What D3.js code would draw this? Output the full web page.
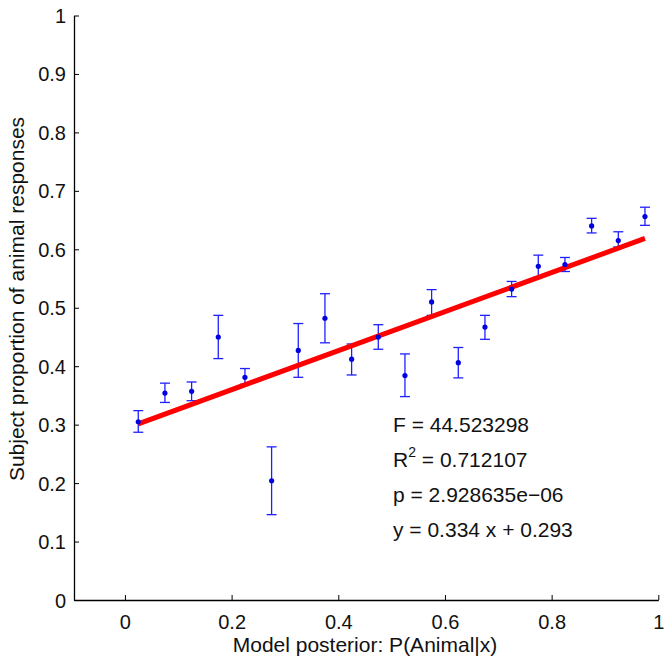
<!DOCTYPE html>
<html>
<head>
<meta charset="utf-8">
<script src="https://cdn.jsdelivr.net/npm/d3@7"></script>
<style>
  html, body { margin: 0; padding: 0; background: #fff; }
  svg text { font-family: "Liberation Sans", Arial, sans-serif; }
</style>
</head>
<body>
<svg id="chart" width="670" height="666"></svg>
<script>
// Data
const xBins  = [0.025, 0.075, 0.125, 0.175, 0.225, 0.275, 0.325, 0.375, 0.425, 0.475,
                0.525, 0.575, 0.625, 0.675, 0.725, 0.775, 0.825, 0.875, 0.925, 0.975];
const yMean  = [0.305, 0.354, 0.357, 0.450, 0.381, 0.204, 0.427, 0.482, 0.412, 0.450,
                0.384, 0.510, 0.406, 0.467, 0.532, 0.571, 0.574, 0.640, 0.615, 0.656];
const yUpper = [0.324, 0.371, 0.373, 0.487, 0.396, 0.262, 0.473, 0.524, 0.438, 0.471,
                0.421, 0.531, 0.432, 0.487, 0.545, 0.590, 0.586, 0.653, 0.630, 0.672];
const yLower = [0.287, 0.338, 0.341, 0.413, 0.369, 0.146, 0.381, 0.440, 0.385, 0.429,
                0.348, 0.487, 0.380, 0.446, 0.519, 0.552, 0.562, 0.628, 0.604, 0.641];
const fitSlope = 0.334, fitIntercept = 0.293;
const fitRange = [0.025, 0.975];
const xTicks = [0, 0.2, 0.4, 0.6, 0.8, 1];
const yTicks = [0, 0.1, 0.2, 0.3, 0.4, 0.5, 0.6, 0.7, 0.8, 0.9, 1];
const statsLines = ["F = 44.523298", "R2", "p = 2.928635e\u221206", "y = 0.334 x + 0.293"];
const xLabel = "Model posterior: P(Animal|x)";
const yLabel = "Subject proportion of animal responses";

const svg = d3.select("#chart");
const x = d3.scaleLinear().domain([-0.0955, 1]).range([74, 658.3]);
const y = d3.scaleLinear().domain([0, 1]).range([600, 15.5]);

const fmt = d => d === 0 ? "0" : d === 1 ? "1" : d3.format(".1f")(d);

// Axes
const gx = svg.append("g").attr("transform", `translate(0,${y(0)})`)
  .call(d3.axisBottom(x).tickValues(xTicks).tickFormat(fmt).tickSizeInner(-5).tickSizeOuter(0).tickPadding(15));
const gy = svg.append("g").attr("transform", `translate(${x.range()[0]},0)`)
  .call(d3.axisLeft(y).tickValues(yTicks).tickFormat(fmt).tickSizeInner(-5).tickSizeOuter(0).tickPadding(8));
[gx, gy].forEach(g => {
  g.select(".domain").attr("stroke", "#000").attr("stroke-width", 1.3);
  g.selectAll(".tick line").attr("stroke", "#000").attr("stroke-width", 1);
  g.selectAll(".tick text").attr("font-size", 20).attr("fill", "#111")
    .attr("font-family", "'Liberation Sans', Arial, sans-serif");
});
gx.selectAll(".tick text").attr("dy", "0.71em");
gy.selectAll(".tick text").attr("dy", "0.35em");

// Error bars
const capW = 5;
const eb = svg.append("g").attr("stroke", "#2020ff").attr("stroke-width", 1.3).attr("fill", "none");
xBins.forEach((xv, i) => {
  const cx = x(xv);
  eb.append("line").attr("x1", cx).attr("x2", cx).attr("y1", y(yLower[i])).attr("y2", y(yUpper[i]));
  eb.append("line").attr("x1", cx - capW).attr("x2", cx + capW).attr("y1", y(yLower[i])).attr("y2", y(yLower[i]));
  eb.append("line").attr("x1", cx - capW).attr("x2", cx + capW).attr("y1", y(yUpper[i])).attr("y2", y(yUpper[i]));
});

// Fit line
svg.append("line")
  .attr("x1", x(fitRange[0])).attr("y1", y(fitSlope * fitRange[0] + fitIntercept))
  .attr("x2", x(fitRange[1])).attr("y2", y(fitSlope * fitRange[1] + fitIntercept))
  .attr("stroke", "#ff0000").attr("stroke-width", 5);

// Points
svg.append("g").selectAll("circle").data(xBins).join("circle")
  .attr("cx", d => x(d)).attr("cy", (d, i) => y(yMean[i])).attr("r", 2.6)
  .attr("fill", "#0000e0");

// Stats text
const st = svg.append("g").attr("font-size", 21).attr("fill", "#111");
const baseY = 432, step = 35, tx = 393;
statsLines.forEach((s, i) => {
  const t = st.append("text").attr("x", tx).attr("y", baseY + i * step);
  if (s === "R2") {
    t.append("tspan").text("R");
    t.append("tspan").text("2").attr("font-size", 14).attr("dy", -10);
    t.append("tspan").text(" = 0.712107").attr("dy", 10);
  } else {
    t.text(s);
  }
});

// Axis labels
svg.append("text").attr("x", 365).attr("y", 652).attr("text-anchor", "middle")
  .attr("font-size", 21).attr("fill", "#111").text(xLabel);
svg.append("text").attr("transform", "translate(24,299) rotate(-90)").attr("text-anchor", "middle")
  .attr("font-size", 21).attr("fill", "#111").text(yLabel);
</script>
</body>
</html>
